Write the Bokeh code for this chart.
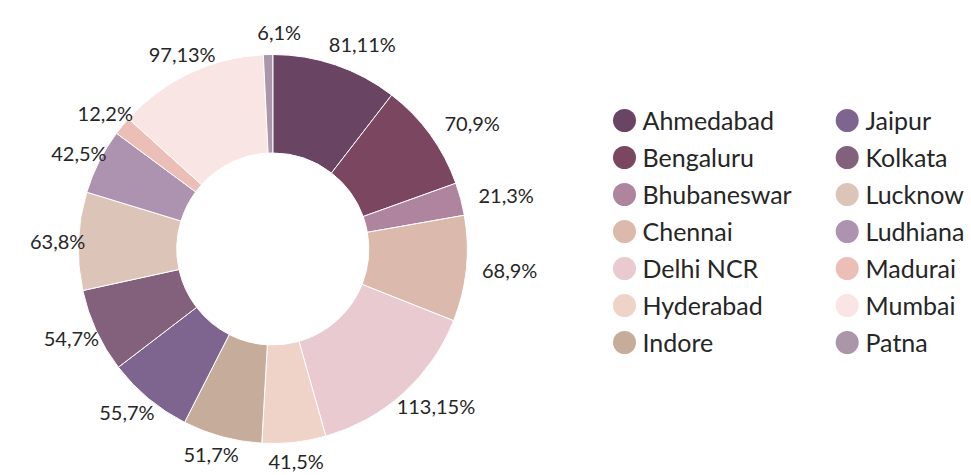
import numpy as np
from bokeh.plotting import figure
from bokeh.models import Range1d, ColumnDataSource
from bokeh.core.properties import value
from bokeh.embed import file_html
from bokeh.resources import INLINE

cities = ["Ahmedabad", "Bengaluru", "Bhubaneswar", "Chennai", "Delhi NCR", "Hyderabad", "Indore",
          "Jaipur", "Kolkata", "Lucknow", "Ludhiana", "Madurai", "Mumbai", "Patna"]
values = [81, 70, 21, 68, 113, 41, 51, 55, 54, 63, 42, 12, 97, 6]
percents = [11, 9, 3, 9, 15, 5, 7, 7, 7, 8, 5, 2, 13, 1]
colors = ["#6a4463", "#7b4760", "#ae849f", "#dcb9ad", "#e8cad0", "#efd3c9", "#c6ac9b",
          "#7e6590", "#83607c", "#dcc4b9", "#ad93af", "#ecbeb8", "#f9e5e4", "#ab95a8"]

W, H = 971, 475
FONT = "Lato"
TXT = "#262626"

p = figure(width=W, height=H, output_backend="svg", toolbar_location=None,
           x_range=Range1d(0, W), y_range=Range1d(0, H), min_border=0)
p.axis.visible = False
p.grid.visible = False
p.outline_line_color = None
p.background_fill_color = "white"

cx, cy = 272.3, H - 248.5
r_out, r_in = 194.5, 96.0

vals = np.array(values, dtype=float)
total = vals.sum()
cum = np.concatenate([[0], np.cumsum(vals)])
th0 = cum[:-1] / total * 2 * np.pi  # clockwise from top
th1 = cum[1:] / total * 2 * np.pi
start = np.pi / 2 - th1
end = np.pi / 2 - th0

src = ColumnDataSource(dict(start=start, end=end, color=colors, city=cities, val=values))
p.annular_wedge(x=cx, y=cy, inner_radius=r_in, outer_radius=r_out,
                start_angle="start", end_angle="end", fill_color="color",
                line_color="white", line_width=1, source=src)

# slice labels
labels = [f"{v},{q}%" for v, q in zip(values, percents)]
mid = (th0 + th1) / 2
dx_dir = np.sin(mid)
dy_dir = np.cos(mid)  # upward positive in data coords


def text_w(s):
    w = 0
    for ch in s:
        w += 5 if ch == "," else (16 if ch == "%" else 11)
    return w


lx, ly = [], []
for s, ux, uy in zip(labels, dx_dir, dy_dir):
    w, h = text_w(s), 18
    down = max(0.0, -uy)
    R = 200 + 8 * max(0.0, uy) + 4 * down
    shift = 12 - 14 * down
    lx.append(cx + ux * R + ux * w / 2 + shift)
    ly.append(cy + uy * (R + h / 2))

p.text(x=lx, y=ly, text=labels, text_align="center", text_baseline="middle",
       text_font=value(FONT), text_font_size="20px", text_color=TXT)

# legend
ncol = 7
lgx_c = [624, 846.7]
lgx_t = [642, 865]
row_y0, row_step = H - 119, 37
mx, my, tx, ty = [], [], [], []
for i, c in enumerate(cities):
    col, row = divmod(i, ncol)
    mx.append(lgx_c[col]); my.append(row_y0 - row * row_step - 1)
    tx.append(lgx_t[col]); ty.append(row_y0 - row * row_step)
p.scatter(x=mx, y=my, size=23, marker="circle", fill_color=colors, line_color=None)
p.text(x=tx, y=ty, text=cities, text_align="left", text_baseline="middle",
       text_font=value(FONT), text_font_size="25px", text_color=TXT)

open("out.html", "w").write(file_html(p, INLINE))
